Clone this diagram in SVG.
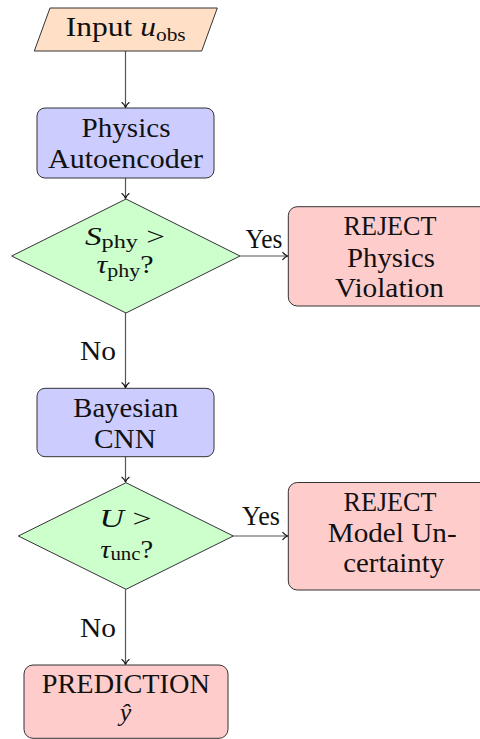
<svg xmlns="http://www.w3.org/2000/svg" width="480" height="739" viewBox="0 0 480 739">
  <style>
    .lbl { font-family: "Liberation Serif", "DejaVu Serif", serif; font-size: 28px; fill: #111; text-anchor: middle; }
    .math { font-size: 26px; }
    .edge-lbl { font-family: "Liberation Serif", "DejaVu Serif", serif; font-size: 28px; fill: #111; }
    .it { font-style: italic; }
    .sub { font-size: 19px; }
    .io { fill: #FFE0C6; stroke: #333; stroke-width: 1; }
    .proc { fill: #CCCCFF; stroke: #333; stroke-width: 1; }
    .dec { fill: #CCFFCC; stroke: #333; stroke-width: 1; }
    .term { fill: #FFCCCC; stroke: #333; stroke-width: 1; }
    .conn { stroke: #555; stroke-width: 1.2; fill: none; marker-end: url(#tip); }
  </style>
  <defs>
    <marker id="tip" markerUnits="userSpaceOnUse" markerWidth="12" markerHeight="12" viewBox="-6 -6 12 12" refX="0" refY="0" orient="auto">
      <path d="M-5,-3.6 C-3.4,-1.4 -1.6,-0.4 0,0 C-1.6,0.4 -3.4,1.4 -5,3.6" fill="none" stroke="#111" stroke-width="1.1" stroke-linecap="round"/>
    </marker>
  </defs>

  <!-- connectors -->
  <g id="connectors">
    <line class="conn" x1="125.5" y1="51" x2="125.5" y2="107.5"/>
    <line class="conn" x1="125.5" y1="178" x2="125.5" y2="198.5"/>
    <line class="conn" x1="240" y1="256" x2="287.8" y2="256"/>
    <line class="conn" x1="125.5" y1="313" x2="125.5" y2="387.8"/>
    <line class="conn" x1="125.5" y1="456.7" x2="125.5" y2="482.2"/>
    <line class="conn" x1="233.3" y1="536" x2="287.8" y2="536"/>
    <line class="conn" x1="125.5" y1="589.3" x2="125.5" y2="664.5"/>
    <text class="edge-lbl" x="245.5" y="247.7" textLength="37" lengthAdjust="spacingAndGlyphs">Yes</text>
    <text class="edge-lbl" x="80" y="360" textLength="36" lengthAdjust="spacingAndGlyphs">No</text>
    <text class="edge-lbl" x="242" y="525" textLength="38" lengthAdjust="spacingAndGlyphs">Yes</text>
    <text class="edge-lbl" x="80" y="636.7" textLength="36" lengthAdjust="spacingAndGlyphs">No</text>
  </g>

  <!-- input -->
  <g id="input">
    <polygon class="io" points="50,8 217.3,8 201.7,51 34.3,51"/>
    <text class="lbl" x="125.7" y="35.5" textLength="120" lengthAdjust="spacingAndGlyphs">Input <tspan class="it">u</tspan><tspan class="sub" dy="5">obs</tspan></text>
  </g>

  <!-- physics autoencoder -->
  <g id="autoencoder">
    <rect class="proc" x="37" y="108" width="177" height="70" rx="8"/>
    <text class="lbl" x="126" y="136.7" textLength="89" lengthAdjust="spacingAndGlyphs">Physics</text>
    <text class="lbl" x="125.5" y="168" textLength="155" lengthAdjust="spacingAndGlyphs">Autoencoder</text>
  </g>

  <!-- physics score check -->
  <g id="check-physics">
    <polygon class="dec" points="126,199 240,256 126,313 11.7,256"/>
    <text class="lbl math" x="125" y="244.5" textLength="80" lengthAdjust="spacingAndGlyphs"><tspan class="it">S</tspan><tspan class="sub" dy="3">phy</tspan><tspan dy="-3"> &gt;</tspan></text>
    <text class="lbl math" x="125" y="273" textLength="57" lengthAdjust="spacingAndGlyphs"><tspan class="it">τ</tspan><tspan class="sub" dy="4">phy</tspan><tspan dy="-4">?</tspan></text>
  </g>

  <!-- physics rejection -->
  <g id="reject-physics">
    <rect class="term" x="288.3" y="206.7" width="203.4" height="99.3" rx="9"/>
    <text class="lbl" x="390" y="235" textLength="93" lengthAdjust="spacingAndGlyphs">REJECT</text>
    <text class="lbl" x="391" y="266.7" textLength="88" lengthAdjust="spacingAndGlyphs">Physics</text>
    <text class="lbl" x="389.5" y="296.7" textLength="109" lengthAdjust="spacingAndGlyphs">Violation</text>
  </g>

  <!-- bayesian cnn -->
  <g id="bayesian-cnn">
    <rect class="proc" x="37" y="388.3" width="177" height="68.4" rx="8"/>
    <text class="lbl" x="125.8" y="416.7" textLength="105" lengthAdjust="spacingAndGlyphs">Bayesian</text>
    <text class="lbl" x="125" y="448" textLength="62" lengthAdjust="spacingAndGlyphs">CNN</text>
  </g>

  <!-- uncertainty check -->
  <g id="check-uncertainty">
    <polygon class="dec" points="126,482.7 233.3,536 126,589.3 18.3,536"/>
    <text class="lbl math" x="125.5" y="526.7" textLength="52" lengthAdjust="spacingAndGlyphs"><tspan class="it">U</tspan> &gt;</text>
    <text class="lbl math" x="126.7" y="558" textLength="53" lengthAdjust="spacingAndGlyphs"><tspan class="it">τ</tspan><tspan class="sub" dy="2">unc</tspan><tspan dy="-2">?</tspan></text>
  </g>

  <!-- uncertainty rejection -->
  <g id="reject-uncertainty">
    <rect class="term" x="288.3" y="482.5" width="203.4" height="107.5" rx="9"/>
    <text class="lbl" x="390" y="511" textLength="93" lengthAdjust="spacingAndGlyphs">REJECT</text>
    <text class="lbl" x="392.2" y="541.7" textLength="129" lengthAdjust="spacingAndGlyphs">Model Un-</text>
    <text class="lbl" x="393.7" y="571.7" textLength="101" lengthAdjust="spacingAndGlyphs">certainty</text>
  </g>

  <!-- prediction -->
  <g id="prediction">
    <rect class="term" x="24" y="665" width="204" height="73.3" rx="9"/>
    <text class="lbl" x="125.8" y="692.7" textLength="168" lengthAdjust="spacingAndGlyphs">PREDICTION</text>
    <text class="lbl it math" x="125.5" y="721">ŷ</text>
  </g>
</svg>
